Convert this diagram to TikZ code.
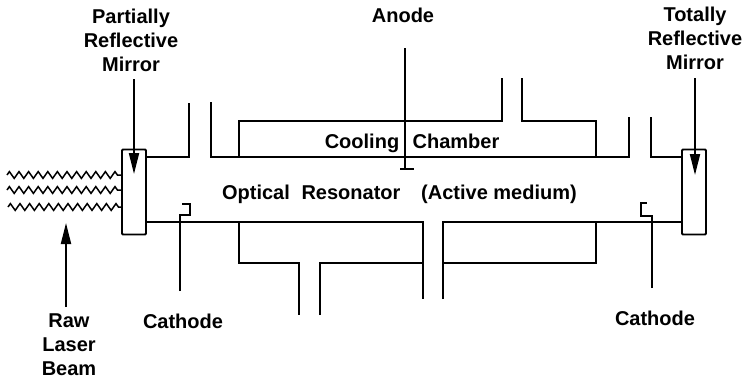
\documentclass[tikz,border=0pt]{standalone}
\usepackage{fontspec}
\setmainfont{Liberation Sans}
\usetikzlibrary{arrows.meta,decorations.pathmorphing}
\begin{document}
\begin{tikzpicture}[x=1pt,y=-1pt,line cap=butt,line join=miter,>={Triangle[length=21pt,width=10pt]},line width=1.9pt,
lbl/.style={font=\fontsize{20}{24}\selectfont\bfseries,align=center,inner sep=0pt},
word/.style={lbl,anchor=base},
mirror/.style={draw,rounded corners=1pt,minimum width=24pt,minimum height=85pt,inner sep=0pt},
wave/.style={line width=1.5pt,decorate,decoration={zigzag,segment length=9.6pt,amplitude=3.4pt}}
]
\useasboundingbox (0,0) rectangle (745,380);
\node[mirror] (mleft) at (134,192) {};
\node[mirror] (mright) at (694,192) {};
\node[lbl] (partial) at (131,40) {Partially\\Reflective\\Mirror};
\node[lbl] (total) at (695,38) {Totally\\Reflective\\Mirror};
\node[word] (anode) at (403,23) {Anode};
\node[lbl] (raw) at (69,345) {Raw\\Laser\\Beam};
\node[word] (cathl) at (183,328) {Cathode};
\node[word] (cathr) at (655,325) {Cathode};
\node[word] (cool) at (362,148) {Cooling};
\node[word] (chamber) at (456,148) {Chamber};
\node[word] (optical) at (256,199) {Optical};
\node[word] (resonator) at (351,199) {Resonator};
\node[word] (active) at (499,199) {(Active medium)};
% arrows into the mirrors
\coordinate (tipl) at (134,174);
\coordinate (tipr) at (695,175);
\coordinate (tipraw) at (66,223);
\draw[->] (partial.south -| tipl) ++(0,7) -- (tipl);
\draw[->] (total.south -| tipr) ++(0,8) -- (tipr);
\draw[->] (raw.north -| tipraw) ++(0,-6) -- (tipraw);
% laser beam
\coordinate (w1) at (7,175);
\coordinate (w2) at (7,190);
\coordinate (w3) at (8,207);
\draw[wave] (w1) -- (mleft.west |- w1);
\draw[wave] (w2) -- (mleft.west |- w2);
\draw[wave] (w3) -- (mleft.west |- w3);
% top wall and cooling chamber
\draw (mleft.east |- 0,157) -- (189,157) -- (189,103);
\draw (211,102) -- (211,157) -- (629,157) -- (629,117);
\draw (651,117) -- (651,157) -- (mright.west |- 0,157);
\draw (239,157) -- (239,121) -- (502,121) -- (502,78);
\draw (522,78) -- (522,121) -- (596,121) -- (596,157);
% bottom wall and chamber
\draw (mleft.east |- 0,222) -- (423,222) -- (423,299);
\draw (443,299) -- (443,222) -- (mright.west |- 0,222);
\draw (239,222) -- (239,263) -- (299,263) -- (299,315);
\draw (320,315) -- (320,263) -- (423,263);
\draw (443,263) -- (596,263) -- (596,222);
% anode
\coordinate (anodetip) at (405,169);
\draw (anode.south -| anodetip) ++(0,24) -- (anodetip);
\draw (400,169) -- (414,169);
% cathodes
\draw (180,291) -- (180,215) -- (190,215) -- (190,204) -- (182,204);
\draw (652,288) -- (652,216) -- (641,216) -- (641,203) -- (647,203);
\end{tikzpicture}
\end{document}
